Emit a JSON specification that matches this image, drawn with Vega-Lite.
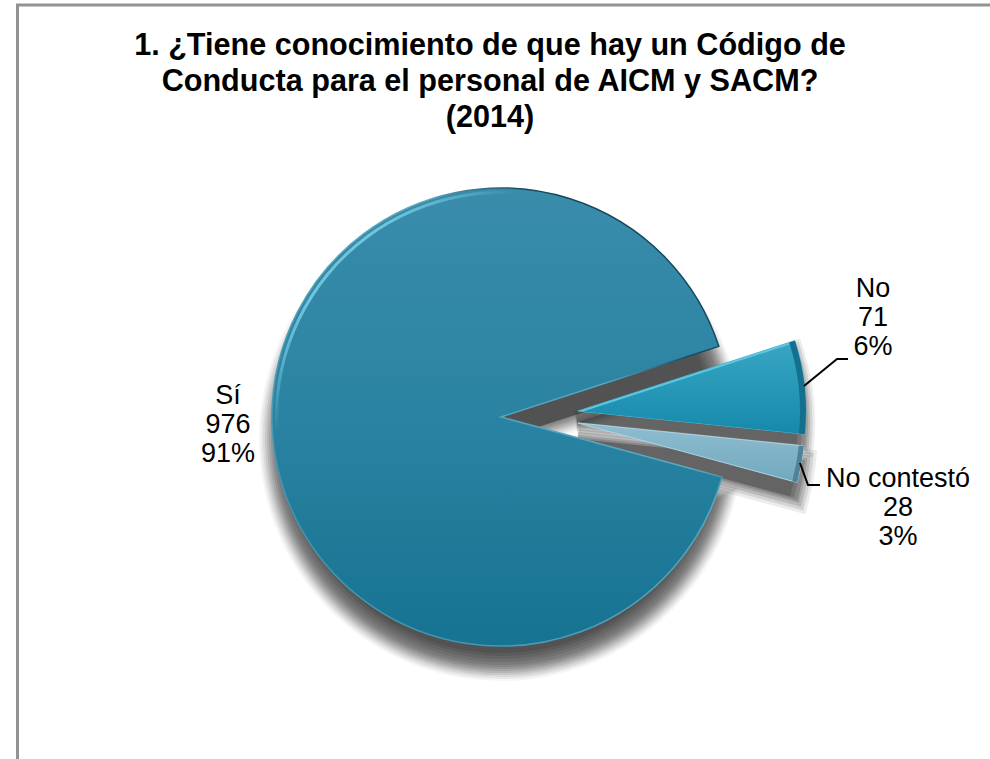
{"$schema":"https://vega.github.io/schema/vega-lite/v6.json","width":990,"height":759,"autosize":"none","padding":0,"background":"white","view":{"stroke":null},
"datasets":{"slices":[{"categoria":"Sí","valor":976,"orden":1,"pct":"91%"},{"categoria":"No","valor":71,"orden":2,"pct":"6%"},{"categoria":"No contestó","valor":28,"orden":3,"pct":"3%"}],
"lines":[{"g":"frame","i":1,"px":17.5,"py":759},{"g":"frame","i":2,"px":17.5,"py":5},{"g":"frame","i":3,"px":990,"py":5},{"g":"no","i":1,"px":804,"py":386},{"g":"no","i":2,"px":837,"py":359},{"g":"no","i":3,"px":848,"py":359},{"g":"nc","i":1,"px":800,"py":463},{"g":"nc","i":2,"px":808,"py":485},{"g":"nc","i":3,"px":820,"py":485}]},
"layer":[
{"data":{"name":"lines"},"transform":[{"filter":"datum.g==='frame'"}],"mark":{"type":"line","stroke":"#939393","strokeWidth":3,"clip":false},"encoding":{"x":{"field":"px","type":"quantitative","scale":{"domain":[0,990],"nice":false,"zero":false},"axis":null},"y":{"field":"py","type":"quantitative","scale":{"domain":[759,0],"nice":false,"zero":false},"axis":null},"order":{"field":"i"},"detail":{"field":"g"}}},
{"data":{"name":"slices"},"transform":[{"stack":"valor","sort":[{"field":"orden"}],"as":["t0","t1"]}],
"encoding":{"theta":{"field":"t0","type":"quantitative","scale":{"domain":[0,1075],"range":[1.836,8.119]}},"theta2":{"field":"t1"}},
"layer":[
{"transform":[{"filter":"datum.categoria==='Sí'"}],"encoding":{"x":{"datum":501},"y":{"datum":439}},"layer":[
{"mark":{"type":"arc","outerRadius":226,"fill":"#000","stroke":"#000","strokeWidth":32,"opacity":0.03}},
{"mark":{"type":"arc","outerRadius":226,"fill":"#000","stroke":"#000","strokeWidth":28,"opacity":0.05}},
{"mark":{"type":"arc","outerRadius":226,"fill":"#000","stroke":"#000","strokeWidth":24,"opacity":0.06}},
{"mark":{"type":"arc","outerRadius":226,"fill":"#000","stroke":"#000","strokeWidth":20,"opacity":0.07}},
{"mark":{"type":"arc","outerRadius":226,"fill":"#000","stroke":"#000","strokeWidth":16,"opacity":0.085}},
{"mark":{"type":"arc","outerRadius":226,"fill":"#000","stroke":"#000","strokeWidth":12,"opacity":0.085}},
{"mark":{"type":"arc","outerRadius":226,"fill":"#000","stroke":"#000","strokeWidth":8,"opacity":0.09}},
{"mark":{"type":"arc","outerRadius":226,"fill":"#000","stroke":"#000","strokeWidth":4,"opacity":0.09}},
{"mark":{"type":"arc","outerRadius":226,"fill":"#000","opacity":0.09}},
{"mark":{"type":"arc","outerRadius":223,"fill":"#000","opacity":0.09}},
{"mark":{"type":"arc","outerRadius":220,"fill":"#000","opacity":0.09}},
{"mark":{"type":"arc","outerRadius":217,"fill":"#000","opacity":0.09}},
{"mark":{"type":"arc","outerRadius":214,"fill":"#000","opacity":0.09}}]},
{"transform":[{"filter":"datum.categoria==='No'"}],"encoding":{"x":{"datum":578},"y":{"datum":422}},"layer":[
{"mark":{"type":"arc","outerRadius":226,"fill":"#000","stroke":"#000","strokeWidth":22,"opacity":0.07}},
{"mark":{"type":"arc","outerRadius":226,"fill":"#000","stroke":"#000","strokeWidth":17,"opacity":0.1}},
{"mark":{"type":"arc","outerRadius":226,"fill":"#000","stroke":"#000","strokeWidth":12,"opacity":0.12}},
{"mark":{"type":"arc","outerRadius":226,"fill":"#000","stroke":"#000","strokeWidth":8,"opacity":0.12}},
{"mark":{"type":"arc","outerRadius":226,"fill":"#000","stroke":"#000","strokeWidth":4,"opacity":0.14}},
{"mark":{"type":"arc","outerRadius":224,"fill":"#000","opacity":0.14}},
{"mark":{"type":"arc","outerRadius":220,"fill":"#000","opacity":0.14}}]},
{"transform":[{"filter":"datum.categoria==='No contestó'"}],"encoding":{"x":{"datum":578},"y":{"datum":439}},"layer":[
{"mark":{"type":"arc","outerRadius":226,"fill":"#000","stroke":"#000","strokeWidth":26,"opacity":0.07}},
{"mark":{"type":"arc","outerRadius":226,"fill":"#000","stroke":"#000","strokeWidth":20,"opacity":0.1}},
{"mark":{"type":"arc","outerRadius":226,"fill":"#000","stroke":"#000","strokeWidth":14,"opacity":0.12}},
{"mark":{"type":"arc","outerRadius":226,"fill":"#000","stroke":"#000","strokeWidth":8,"opacity":0.12}},
{"mark":{"type":"arc","outerRadius":226,"fill":"#000","stroke":"#000","strokeWidth":4,"opacity":0.14}},
{"mark":{"type":"arc","outerRadius":224,"fill":"#000","opacity":0.14}},
{"mark":{"type":"arc","outerRadius":220,"fill":"#000","opacity":0.14}}]},
{"transform":[{"filter":"datum.categoria==='Sí'"}],"encoding":{"x":{"datum":501},"y":{"datum":417}},"layer":[
{"mark":{"type":"arc","outerRadius":229,"strokeWidth":1.5,"stroke":{"gradient":"linear","x1":0,"y1":1,"x2":1,"y2":0,"stops":[{"offset":0,"color":"#3f8ea8"},{"offset":0.66,"color":"#5ba9c1"},{"offset":0.78,"color":"#16485c"},{"offset":1,"color":"#16485c"}]},"fill":{"gradient":"linear","x1":0,"y1":0,"x2":0,"y2":1,"stops":[{"offset":0,"color":"#3a8cab"},{"offset":0.5,"color":"#2a83a2"},{"offset":1,"color":"#167391"}]}}},
{"mark":{"type":"arc","outerRadius":226,"innerRadius":223,"fill":{"gradient":"linear","x1":0,"y1":0,"x2":1,"y2":1,"stops":[{"offset":0,"color":"rgba(125,212,232,0.8)"},{"offset":0.16,"color":"rgba(125,212,232,0.8)"},{"offset":0.27,"color":"rgba(125,212,232,0)"},{"offset":1,"color":"rgba(125,212,232,0)"}]}}}]},
{"transform":[{"filter":"datum.categoria==='No'"}],"layer":[
{"encoding":{"x":{"datum":578},"y":{"datum":411}},"mark":{"type":"arc","outerRadius":228,"stroke":"#4fb9d4","strokeWidth":1,"fill":"#5ec9e3"}},
{"encoding":{"x":{"datum":583},"y":{"datum":411.5}},"mark":{"type":"arc","outerRadius":222,"fill":{"gradient":"linear","x1":0,"y1":0,"x2":0,"y2":1,"stops":[{"offset":0,"color":"#38a6c4"},{"offset":1,"color":"#1689ab"}]}}},
{"encoding":{"x":{"datum":578},"y":{"datum":411}},"mark":{"type":"arc","outerRadius":228,"innerRadius":222,"fill":"#14708f"}}]},
{"transform":[{"filter":"datum.categoria==='No contestó'"}],"encoding":{"x":{"datum":578},"y":{"datum":423}},"layer":[
{"mark":{"type":"arc","outerRadius":227,"stroke":"#a9d4e2","strokeWidth":1,"fill":{"gradient":"linear","x1":0,"y1":0,"x2":0,"y2":1,"stops":[{"offset":0,"color":"#8fbdd0"},{"offset":1,"color":"#72a8bd"}]}}},
{"mark":{"type":"arc","outerRadius":227,"innerRadius":222,"fill":"#4f8299"}}]}
]},
{"data":{"name":"lines"},"transform":[{"filter":"datum.g!=='frame'"}],"mark":{"type":"line","stroke":"#000","strokeWidth":2},"encoding":{"x":{"field":"px","type":"quantitative"},"y":{"field":"py","type":"quantitative"},"order":{"field":"i"},"detail":{"field":"g"}}},
{"data":{"values":[{"t":"1. ¿Tiene conocimiento de que hay un Código de\nConducta para el personal de AICM y SACM?\n(2014)"}]},"mark":{"type":"text","lineBreak":"\n","font":"Liberation Sans","fontWeight":"bold","fontSize":30.6,"lineHeight":36,"align":"center","baseline":"middle","color":"#000"},"encoding":{"text":{"field":"t"},"x":{"datum":490},"y":{"datum":46}}},
{"data":{"name":"slices"},"transform":[{"calculate":"datum.categoria+'\\n'+datum.valor+'\\n'+datum.pct","as":"label"},{"filter":"datum.categoria==='Sí'"}],"mark":{"type":"text","lineBreak":"\n","font":"Liberation Sans","fontSize":27,"lineHeight":29,"align":"center","baseline":"middle","color":"#000"},"encoding":{"text":{"field":"label"},"x":{"datum":228},"y":{"datum":396}}},
{"data":{"name":"slices"},"transform":[{"calculate":"datum.categoria+'\\n'+datum.valor+'\\n'+datum.pct","as":"label"},{"filter":"datum.categoria==='No'"}],"mark":{"type":"text","lineBreak":"\n","font":"Liberation Sans","fontSize":27,"lineHeight":29,"align":"center","baseline":"middle","color":"#000"},"encoding":{"text":{"field":"label"},"x":{"datum":873},"y":{"datum":289}}},
{"data":{"name":"slices"},"transform":[{"calculate":"datum.categoria+'\\n'+datum.valor+'\\n'+datum.pct","as":"label"},{"filter":"datum.categoria==='No contestó'"}],"mark":{"type":"text","lineBreak":"\n","font":"Liberation Sans","fontSize":27,"lineHeight":29,"align":"center","baseline":"middle","color":"#000"},"encoding":{"text":{"field":"label"},"x":{"datum":898},"y":{"datum":479}}}
]}
